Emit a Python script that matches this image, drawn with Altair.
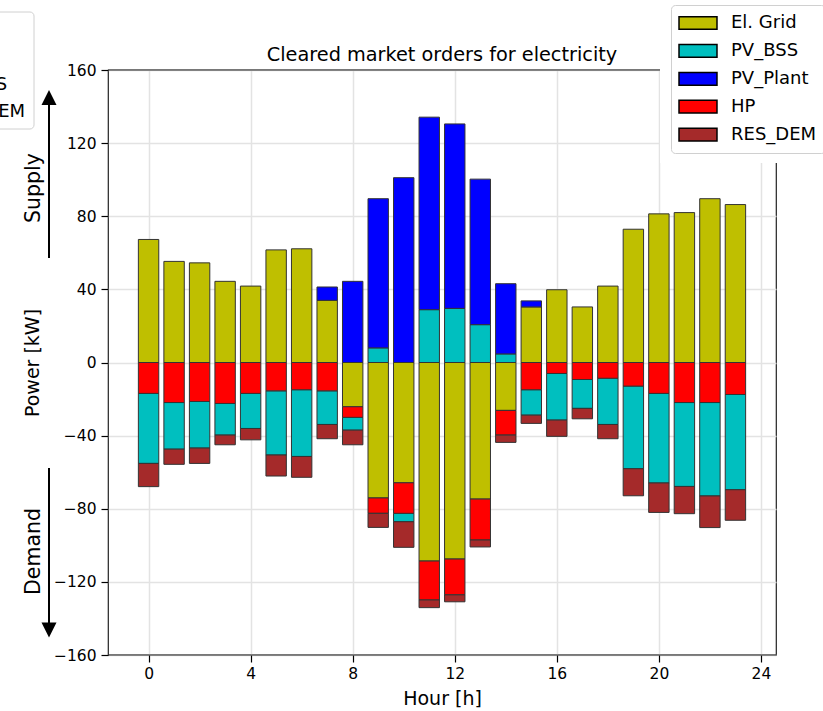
import altair as alt
import pandas as pd

# ---- data: cleared market orders per hour (kW, + supply / - demand) ----
hours = list(range(24))
series = ["El. Grid", "PV_BSS", "PV_Plant", "HP", "RES_DEM"]
colors = ["#bfbf00", "#00bfbf", "#0000ff", "#ff0000", "#a52a2a"]
# stacking order away from the zero line
stack_rank = {"El. Grid": 0, "HP": 1, "PV_BSS": 2, "PV_Plant": 3, "RES_DEM": 4}

el_grid = [67.3, 55.3, 54.5, 44.4, 41.8, 61.6, 62.2, 34.0, -24.2, -74.1, -65.8, -108.6,
           -107.5, -74.7, -26.2, 30.4, 39.8, 30.4, 41.8, 72.9, 81.3, 82.0, 89.6, 86.4]
pv_bss = [-38.3, -25.5, -25.5, -17.3, -19.2, -35.1, -36.5, -18.4, -7.0, 8.0, -4.6, 28.9,
          29.6, 20.7, 4.7, -13.9, -25.5, -15.8, -25.3, -45.2, -49.0, -45.9, -51.1, -52.1]
pv_plant = [0, 0, 0, 0, 0, 0, 0, 7.3, 44.4, 81.6, 101.1, 105.3,
            100.9, 79.6, 38.4, 3.3, 0, 0, 0, 0, 0, 0, 0, 0]
hp = [-16.9, -21.9, -21.3, -22.4, -16.9, -15.5, -14.9, -15.5, -5.8, -8.4, -16.7, -21.3,
      -19.6, -22.4, -13.5, -14.9, -6.0, -9.3, -8.6, -12.9, -16.9, -21.9, -21.9, -17.5]
res_dem = [-12.7, -8.3, -8.4, -5.3, -6.2, -11.5, -11.4, -7.8, -8.0, -7.7, -14.0, -4.2,
           -3.8, -3.8, -4.0, -4.5, -8.9, -5.7, -7.8, -14.8, -16.1, -14.9, -17.3, -16.7]

x_ticks = [0, 4, 8, 12, 16, 20, 24]
y_ticks = [-160, -120, -80, -40, 0, 40, 80, 120, 160]

rows = []
for name, vals in zip(series, [el_grid, pv_bss, pv_plant, hp, res_dem]):
    for h, v in zip(hours, vals):
        rows.append({"hour": h, "series": name, "value": v, "rank": stack_rank[name]})
df = pd.DataFrame(rows)

FONT = "DejaVu Sans"
SPINE = "#222222"
one = alt.Data(values=[{"k": 0}])

bars = (
    alt.Chart(df)
    .transform_filter("datum.value != 0")
    .transform_stack(stack="value", groupby=["hour"], as_=["y0", "y1"],
                     sort=[alt.SortField("rank", order="ascending")])
    .transform_calculate(xa="datum.hour - 0.4", xb="datum.hour + 0.4")
    .mark_bar(stroke="#333333", strokeWidth=1)
    .encode(
        x=alt.X("xa:Q",
                scale=alt.Scale(domain=[-1.59, 24.59], nice=False, zero=False),
                axis=alt.Axis(values=x_ticks, format="d", title="Hour [h]",
                              labelPadding=4, titleX=334, titleY=43.7,
                              titleBaseline="middle", titleAlign="center")),
        x2="xb:Q",
        y=alt.Y("y0:Q",
                scale=alt.Scale(domain=[-160, 160], nice=False),
                axis=alt.Axis(values=y_ticks, title="Power [kW]", labelPadding=5,
                              titleX=-75.7, titleY=292.5, titleAngle=270,
                              titleBaseline="middle", titleAlign="center")),
        y2="y1:Q",
        color=alt.Color(
            "series:N",
            scale=alt.Scale(domain=series, range=colors),
            legend=alt.Legend(
                title=None, orient="none", legendX=563, legendY=-65,
                symbolType="M-2.171,-0.726H2.171V0.726H-2.171Z", symbolSize=306.25,
                symbolOffset=9, symbolStrokeColor="black", symbolStrokeWidth=1.5,
                symbolOpacity=1, labelFont=FONT, labelFontSize=18, labelColor="black",
                labelOffset=23.5, rowPadding=8.9, padding=8.5,
                fillColor="white", strokeColor="#d0d0d0", cornerRadius=4,
            ),
        ),
    )
)

# white area behind the legend in the upper right corner
cover = alt.Chart(one).mark_rect(fill="white", strokeWidth=0).encode(
    x=alt.value(552), x2=alt.value(730), y=alt.value(-75), y2=alt.value(93)
)

# top and bottom frame lines drawn above the grid
top_spine = alt.Chart(one).mark_rule(color=SPINE, strokeWidth=1.2).encode(
    x=alt.value(0), x2=alt.value(552), y=alt.value(0)
)
bottom_spine = alt.Chart(one).mark_rule(color=SPINE, strokeWidth=1.2).encode(
    x=alt.value(0), x2=alt.value(668), y=alt.value(585)
)

title = alt.Chart(one).mark_text(
    font=FONT, fontSize=19.3, align="center", baseline="alphabetic", color="black"
).encode(x=alt.value(334), y=alt.value(-9),
         text=alt.value("Cleared market orders for electricity"))

# clipped legend box at the left edge
left_box = alt.Chart(one).mark_rect(
    fill="white", stroke="#d0d0d0", strokeWidth=1, cornerRadius=4
).encode(x=alt.value(-240), x2=alt.value(-74), y=alt.value(-58), y2=alt.value(59))
left_lbl1 = alt.Chart(one).mark_text(
    font=FONT, fontSize=18, align="left", baseline="middle", color="black"
).encode(x=alt.value(-168), y=alt.value(15), text=alt.value("PV_BSS"))
left_lbl2 = alt.Chart(one).mark_text(
    font=FONT, fontSize=18, align="left", baseline="middle", color="black"
).encode(x=alt.value(-168), y=alt.value(42), text=alt.value("RES_DEM"))

# supply / demand arrows
sup_shaft = alt.Chart(one).mark_rule(color="black", strokeWidth=2).encode(
    x=alt.value(-59), y=alt.value(188), y2=alt.value(34)
)
sup_head = alt.Chart(one).mark_point(
    shape="M0,-1L1,1L-1,1Z", filled=True, size=225, color="black", opacity=1
).encode(x=alt.value(-59), y=alt.value(27.5))
sup_text = alt.Chart(one).mark_text(
    font=FONT, fontSize=20.5, angle=270, align="center", baseline="middle", color="black"
).encode(x=alt.value(-74), y=alt.value(118), text=alt.value("Supply"))

dem_shaft = alt.Chart(one).mark_rule(color="black", strokeWidth=2).encode(
    x=alt.value(-59), y=alt.value(398), y2=alt.value(553)
)
dem_head = alt.Chart(one).mark_point(
    shape="M0,1L1,-1L-1,-1Z", filled=True, size=225, color="black", opacity=1
).encode(x=alt.value(-59), y=alt.value(560))
dem_text = alt.Chart(one).mark_text(
    font=FONT, fontSize=20.5, angle=270, align="center", baseline="middle", color="black"
).encode(x=alt.value(-74), y=alt.value(481.5), text=alt.value("Demand"))

chart = (
    alt.layer(cover, top_spine, bottom_spine, bars, title, left_box, left_lbl1, left_lbl2,
              sup_shaft, sup_head, sup_text, dem_shaft, dem_head, dem_text)
    .properties(
        width=668, height=585,
        autosize=alt.AutoSizeParams(type="none"),
        padding={"left": 108, "top": 70, "right": 47, "bottom": 56},
    )
    .configure_view(stroke=SPINE, strokeWidth=1.2)
    .configure_axis(
        labelFont=FONT, labelFontSize=15.5, labelColor="black",
        titleFont=FONT, titleFontSize=19, titleFontWeight="normal", titleColor="black",
        tickSize=7, tickColor="black", tickWidth=1.2,
        domain=False, grid=True, gridColor="#e3e3e3", gridWidth=1.5,
    )
)

chart.save("out.html", embed_options={"renderer": "svg", "actions": False})
